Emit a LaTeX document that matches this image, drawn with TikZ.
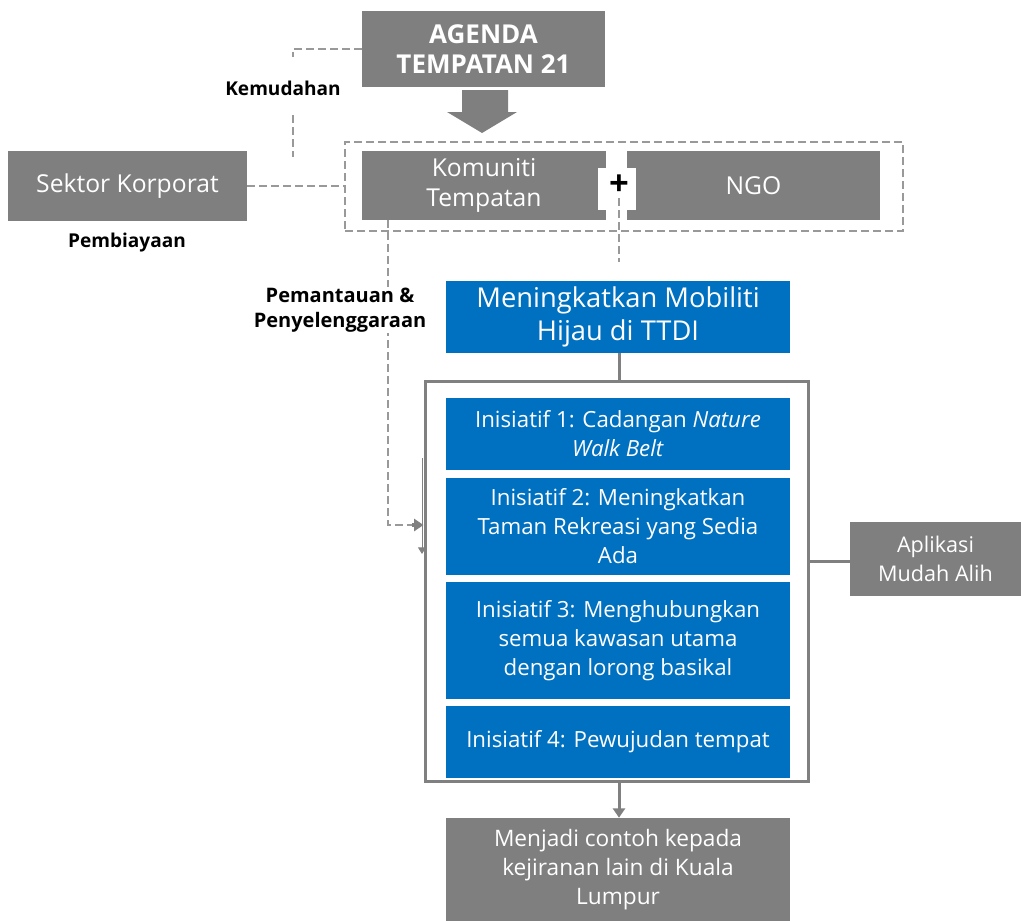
\documentclass[tikz,border=0pt]{standalone}
\usepackage{fontspec}
\setmainfont{Open Sans}
\usetikzlibrary{arrows.meta}
\definecolor{boxgray}{HTML}{7F7F7F}
\definecolor{boxblue}{HTML}{0070C0}
\definecolor{dashgray}{HTML}{999999}
\definecolor{linegray}{HTML}{808080}
\begin{document}
\begin{tikzpicture}[x=0.75pt,y=-0.75pt,
  gbox/.style={fill=boxgray, text=white, align=center, inner sep=0pt,
    font=\fontsize{18.5}{22.5}\selectfont},
  bbox/.style={fill=boxblue, text=white, align=center, inner sep=0pt,
    font=\fontsize{16.7}{21.8}\selectfont},
  lbl/.style={align=center, inner sep=1pt, text=black,
    font=\fontsize{14.3}{18}\selectfont\bfseries},
  dashline/.style={draw=dashgray, line width=1.5pt, dash pattern=on 6pt off 3pt},
  solidline/.style={draw=linegray, line width=2.25pt},
  tip/.style={-{Triangle[width=9pt,length=7pt]}}
]
\useasboundingbox (0,0) rectangle (1021,921);

% top agenda box and its block arrow
\node[gbox, minimum width=182.25pt, minimum height=57pt,
  font=\fontsize{19.5}{23}\selectfont\bfseries] (agenda) at (483.5,49) {AGENDA\\TEMPATAN 21};
\fill[boxgray] (462,90) -- (508,90) -- (508,112) -- (517,112) -- (482,133)
  -- (447,112) -- (462,112) -- cycle;

% partners group
\node[draw=dashgray, line width=1.5pt, dash pattern=on 6pt off 3pt,
  minimum width=418.5pt, minimum height=66.75pt, inner sep=0pt] (grp) at (624,186.5) {};
\node[gbox, minimum width=183pt, minimum height=51.75pt] (kom) at (484,185.5) {Komuniti\\Tempatan};
\node[gbox, minimum width=189.75pt, minimum height=51.75pt] (ngo) at (753.5,185.5) {NGO};
\node[fill=white, minimum width=28.5pt, minimum height=31.5pt, inner sep=0pt] (plusbg) at (617,189) {};
\node[inner sep=0pt, font=\fontsize{26}{26}\selectfont\bfseries] (plus) at (619,185) {+};
\coordinate (plusend) at (619,262);
\draw[dashline] (619,198) -- (plusend);

% corporate sector
\node[gbox, minimum width=179.25pt, minimum height=52.5pt] (sek) at (127.5,186) {Sektor Korporat};
\node[lbl] (biaya) at (127,243) {Pembiayaan};
\draw[dashline] (sek.east) -- (sek.east -| grp.west);

% facilitation link from the agenda
\coordinate (kemA) at (293,49);
\coordinate (kemB) at (293,57);
\coordinate (kemC) at (293,115);
\coordinate (kemD) at (293,157);
\draw[dashline] (agenda.west |- kemA) -- (kemA) -- (kemB);
\draw[dashline] (kemC) -- (kemD);
\node[lbl] (mudah) at (283,88) {Kemudahan};

% monitoring link into the initiatives frame
\coordinate (monA) at (388,220);
\coordinate (monB) at (388,525);
\draw[dashline] (monA) -- (monB) -- (412,525);
\node[lbl, fill=white, font=\fontsize{15}{18.5}\selectfont\bfseries] (pantau) at (340,310)
  {Pemantauan \&\\Penyelenggaraan};

% main goal and initiatives
\node[bbox, minimum width=258pt, minimum height=54pt,
  font=\fontsize{20.5}{24.5}\selectfont] (mob) at (618,317) {Meningkatkan Mobiliti\\Hijau di TTDI};
\node[draw=linegray, line width=2.25pt, fill=white, minimum width=287.25pt,
  minimum height=300pt, inner sep=0pt] (frame) at (616.5,581) {};
\draw[solidline] (mob.south -| 619,0) -- (frame.north -| 619,0);

\node[bbox, minimum width=258pt, minimum height=54pt] (in1) at (618,434)
  {Inisiatif 1: Cadangan \textit{Nature}\\\textit{Walk Belt}};
\node[bbox, minimum width=258pt, minimum height=72.75pt] (in2) at (618,526.5)
  {Inisiatif 2: Meningkatkan\\Taman Rekreasi yang Sedia\\Ada};
\node[bbox, minimum width=258pt, minimum height=87.75pt] (in3) at (618,640.5)
  {Inisiatif 3: Menghubungkan\\semua kawasan utama\\dengan lorong basikal};
\node[bbox, minimum width=258pt, minimum height=54pt] (in4) at (618,742)
  {Inisiatif 4: Pewujudan tempat};

% arrows on the frame's left edge
\draw[draw=linegray, line width=3pt, tip] (412,525) -- (frame.west |- monB);
\draw[draw=linegray, line width=0.75pt, -{Triangle[width=6pt,length=5pt]}] (422,458) -- (422,554);

% mobile application
\node[gbox, minimum width=128.25pt, minimum height=55.5pt,
  font=\fontsize{16.2}{22}\selectfont] (apl) at (935.5,559) {Aplikasi\\Mudah Alih};
\draw[solidline] (frame.east |- 0,561) -- (apl.west |- 0,561);

% outcome
\node[gbox, minimum width=258pt, minimum height=77.25pt,
  font=\fontsize{17}{21.5}\selectfont] (out) at (618,869.5)
  {Menjadi contoh kepada\\kejiranan lain di Kuala\\Lumpur};
\draw[solidline, tip] (frame.south -| 619,0) -- (out.north -| 619,0);
\end{tikzpicture}
\end{document}
